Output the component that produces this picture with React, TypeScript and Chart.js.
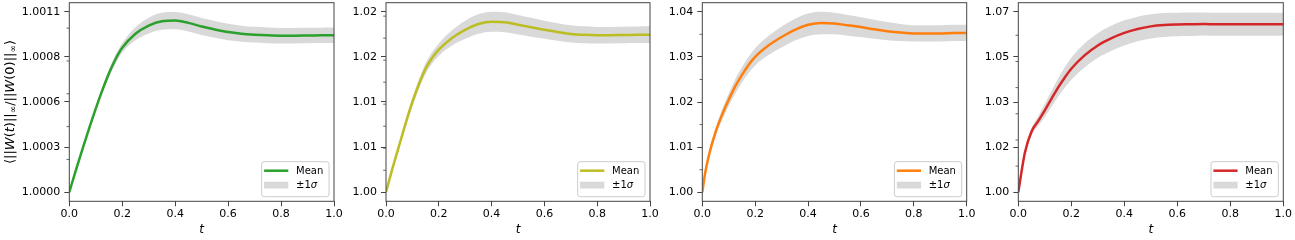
import React, { useEffect, useRef } from 'react';
import { Chart, registerables } from 'chart.js';

Chart.register(...registerables);

// ---------- data ----------
const T = [0, 0.01, 0.025, 0.05, 0.075, 0.1, 0.125, 0.15, 0.175, 0.2, 0.25, 0.3, 0.35, 0.4, 0.45, 0.5, 0.55, 0.6, 0.65, 0.7, 0.75, 0.8, 0.85, 0.9, 0.95, 1.0];

const MEAN_1 = [1.0, 1.000055, 1.000135, 1.000265, 1.00039, 1.00051, 1.000622, 1.000725, 1.000812, 1.00088, 1.000966, 1.001016, 1.001042, 1.001046, 1.001032, 1.00101, 1.000992, 1.000976, 1.000966, 1.00096, 1.000956, 1.000954, 1.000954, 1.000955, 1.000956, 1.000957];
const STD_1 = [0, 0.000003, 0.000006, 0.00001, 0.000013, 0.000017, 0.00002, 0.000024, 0.000027, 0.00003, 0.00004, 0.000048, 0.000052, 0.000053, 0.000053, 0.000052, 0.000051, 0.00005, 0.000049, 0.000048, 0.000048, 0.000047, 0.000047, 0.000047, 0.000047, 0.000047];

const MEAN_2 = [1.0, 1.00113, 1.00277, 1.00533, 1.00789, 1.01025, 1.0123, 1.01404, 1.01527, 1.0162, 1.01753, 1.01845, 1.01911, 1.01937, 1.01931, 1.01902, 1.01874, 1.01845, 1.0182, 1.01798, 1.01788, 1.01784, 1.01784, 1.01786, 1.01788, 1.0179];
const STD_2 = [0, 0.0001, 0.0002, 0.0003, 0.0004, 0.00049, 0.00055, 0.00062, 0.00066, 0.0007, 0.00086, 0.00103, 0.00111, 0.00113, 0.00113, 0.00111, 0.00107, 0.00103, 0.001, 0.00098, 0.00096, 0.00094, 0.00094, 0.00094, 0.00094, 0.00094];

const MEAN_3 = [1.0, 1.004, 1.0082, 1.0133, 1.0172, 1.0205, 1.0235, 1.026, 1.0282, 1.03, 1.0325, 1.0344, 1.036, 1.0371, 1.0375, 1.0374, 1.037, 1.0366, 1.0361, 1.0357, 1.0354, 1.0352, 1.0352, 1.0352, 1.0353, 1.0353];
const STD_3 = [0, 0.0003, 0.0006, 0.0009, 0.0012, 0.0014, 0.0016, 0.0017, 0.0018, 0.0019, 0.0021, 0.0023, 0.0024, 0.0025, 0.0025, 0.0024, 0.0023, 0.0022, 0.0021, 0.002, 0.0019, 0.0018, 0.0018, 0.0018, 0.0018, 0.0018];

const MEAN_4 = [1.0, 1.0065, 1.0152, 1.0232, 1.0272, 1.0313, 1.0357, 1.04, 1.0438, 1.0472, 1.0523, 1.0561, 1.0588, 1.0609, 1.0624, 1.0634, 1.0639, 1.0641, 1.0642, 1.0643, 1.0642, 1.0642, 1.0642, 1.0642, 1.0642, 1.0642];
const STD_4 = [0, 0.0008, 0.0012, 0.0015, 0.0019, 0.0025, 0.003, 0.0035, 0.0039, 0.0042, 0.0046, 0.0047, 0.0048, 0.0048, 0.0047, 0.0046, 0.0046, 0.0045, 0.0045, 0.0044, 0.0044, 0.0044, 0.0044, 0.0044, 0.0044, 0.0043];

const X_TICKS = [0, 0.2, 0.4, 0.6, 0.8, 1.0];
const X_LABELS = ['0.0', '0.2', '0.4', '0.6', '0.8', '1.0'];

const Y_TICKS_1 = [1.0, 1.000275, 1.00055, 1.000825, 1.0011];
const Y_LABELS_1 = ['1.0000', '1.0003', '1.0006', '1.0008', '1.0011'];
const Y_MINOR_1 = [1.0002, 1.0004, 1.0006, 1.0008, 1.001];

const Y_TICKS_2 = [1.0, 1.005125, 1.01025, 1.015375, 1.0205];
const Y_LABELS_2 = ['1.00', '1.01', '1.01', '1.02', '1.02'];
const Y_MINOR_2 = [1.0025, 1.005, 1.0075, 1.01, 1.0125, 1.015, 1.0175, 1.02];

const Y_TICKS_3 = [1.0, 1.01, 1.02, 1.03, 1.04];
const Y_LABELS_3 = ['1.00', '1.01', '1.02', '1.03', '1.04'];
const Y_MINOR_3 = [1.005, 1.015, 1.025, 1.035];

const Y_TICKS_4 = [1.0, 1.01725, 1.0345, 1.05175, 1.069];
const Y_LABELS_4 = ['1.00', '1.02', '1.03', '1.05', '1.07'];
const Y_MINOR_4 = [1.01, 1.02, 1.03, 1.04, 1.05, 1.06];

const SERIES_LABELS = ['Mean', '±1σ'];
const X_TITLE = 't';

const COLORS = ['#2ca02c', '#bcbd22', '#ff7f0e', '#d62728'];
const BAND = '#d9d9d9';
const SPINE = '#444444';
const FONT = "'DejaVu Sans', sans-serif";

const PANELS = [
  { mean: MEAN_1, std: STD_1, color: COLORS[0], yTicks: Y_TICKS_1, yLabels: Y_LABELS_1, minor: Y_MINOR_1, left: 0, right: 345, axL: 69.3, axR: 334, yTitle: true },
  { mean: MEAN_2, std: STD_2, color: COLORS[1], yTicks: Y_TICKS_2, yLabels: Y_LABELS_2, minor: Y_MINOR_2, left: 345, right: 662, axL: 386, axR: 650, yTitle: false },
  { mean: MEAN_3, std: STD_3, color: COLORS[2], yTicks: Y_TICKS_3, yLabels: Y_LABELS_3, minor: Y_MINOR_3, left: 662, right: 978, axL: 702.3, axR: 966.7, yTitle: false },
  { mean: MEAN_4, std: STD_4, color: COLORS[3], yTicks: Y_TICKS_4, yLabels: Y_LABELS_4, minor: Y_MINOR_4, left: 978, right: 1295, axL: 1018.3, axR: 1283.3, yTitle: false },
];

const CANVAS_H = 240;

// y-axis label: ⟨||W(t)||∞/||W(0)||∞⟩ drawn as mathtext-like segments
const Y_TITLE_SEGS: [string, boolean, boolean][] = [
  ['⟨||', false, false], ['W', true, false], ['(', false, false], ['t', true, false], [')||', false, false], ['∞', false, true],
  ['/||', false, false], ['W', true, false], ['(0)||', false, false], ['∞', false, true], ['⟩', false, false],
];

function drawYTitle(ctx: CanvasRenderingContext2D, cx: number, cy: number) {
  const size = 13;
  const fontOf = (it: boolean, sub: boolean) => `${it ? 'italic ' : ''}${sub ? size * 0.7 : size}px ${FONT}`;
  let total = 0;
  const widths = Y_TITLE_SEGS.map(([s, it, sub]) => { ctx.font = fontOf(it, sub); const w = ctx.measureText(s).width; total += w; return w; });
  ctx.save();
  ctx.translate(cx, cy);
  ctx.rotate(-Math.PI / 2);
  ctx.fillStyle = '#000';
  ctx.textBaseline = 'middle';
  ctx.textAlign = 'left';
  let x = -total / 2;
  Y_TITLE_SEGS.forEach(([s, it, sub], i) => {
    ctx.font = fontOf(it, sub);
    ctx.fillText(s, x, sub ? 3.5 : 0);
    x += widths[i];
  });
  ctx.restore();
}

function Panel({ cfg }: { cfg: any }) {
  const ref = useRef<HTMLCanvasElement | null>(null);
  useEffect(() => {
    const canvas = ref.current;
    if (!canvas) return;
    const lo = cfg.yTicks[0];
    const hi = cfg.yTicks[cfg.yTicks.length - 1];
    const R = hi - lo;
    const meanPts = T.map((t, i) => ({ x: t, y: cfg.mean[i] }));
    const upPts = T.map((t, i) => ({ x: t, y: cfg.mean[i] + cfg.std[i] }));
    const loPts = T.map((t, i) => ({ x: t, y: cfg.mean[i] - cfg.std[i] }));

    const decor = {
      id: 'decor',
      afterDatasetsDraw(chart: any) {
        const { ctx, chartArea: a } = chart;
        const ys = chart.scales.y;
        ctx.save();
        // frame
        ctx.strokeStyle = SPINE;
        ctx.lineWidth = 1;
        ctx.strokeRect(a.left, a.top, a.right - a.left, a.bottom - a.top);
        // minor ticks
        ctx.lineWidth = 0.8;
        cfg.minor.forEach((v: number) => {
          const py = ys.getPixelForValue(v);
          ctx.beginPath();
          ctx.moveTo(a.left - 2.8, py);
          ctx.lineTo(a.left, py);
          ctx.stroke();
        });
        // legend
        const w = 67.3, h = 35;
        const x0 = a.right - 5 - w, y0 = a.bottom - 4.6 - h;
        ctx.beginPath();
        if ((ctx as any).roundRect) (ctx as any).roundRect(x0, y0, w, h, 2.5); else ctx.rect(x0, y0, w, h);
        ctx.fillStyle = 'rgba(255,255,255,0.8)';
        ctx.fill();
        ctx.strokeStyle = '#cccccc';
        ctx.lineWidth = 1;
        ctx.stroke();
        ctx.strokeStyle = cfg.color;
        ctx.lineWidth = 2.5;
        ctx.beginPath();
        ctx.moveTo(x0 + 2.4, y0 + 9);
        ctx.lineTo(x0 + 26.6, y0 + 9);
        ctx.stroke();
        ctx.fillStyle = BAND;
        ctx.fillRect(x0 + 2.4, y0 + 20, 24.2, 6.8);
        ctx.fillStyle = '#000';
        ctx.textBaseline = 'middle';
        ctx.textAlign = 'left';
        ctx.font = `10px ${FONT}`;
        ctx.fillText(SERIES_LABELS[0], x0 + 34.3, y0 + 9.5);
        const pm = '±1';
        ctx.fillText(pm, x0 + 34.3, y0 + 23.5);
        const pw = ctx.measureText(pm).width;
        ctx.font = `italic 10px ${FONT}`;
        ctx.fillText('σ', x0 + 34.3 + pw, y0 + 23.5);
        if (cfg.yTitle) drawYTitle(ctx, 10.5, (a.top + a.bottom) / 2);
        ctx.restore();
      },
    };

    const chart = new Chart(canvas, {
      type: 'line',
      data: {
        datasets: [
          { label: SERIES_LABELS[0], data: meanPts, borderColor: cfg.color, borderWidth: 2.5, pointRadius: 0, fill: false, cubicInterpolationMode: 'monotone' } as any,
          { label: SERIES_LABELS[1], data: upPts, borderWidth: 0, borderColor: 'rgba(0,0,0,0)', backgroundColor: BAND, pointRadius: 0, fill: '+1', cubicInterpolationMode: 'monotone' } as any,
          { label: 'lower', data: loPts, borderWidth: 0, borderColor: 'rgba(0,0,0,0)', pointRadius: 0, fill: false, cubicInterpolationMode: 'monotone' } as any,
        ],
      },
      options: {
        animation: false,
        responsive: false,
        devicePixelRatio: 1,
        events: [],
        layout: { padding: { left: 0, right: cfg.right - cfg.axR, top: 2.7, bottom: 0 } },
        plugins: { legend: { display: false }, tooltip: { enabled: false } },
        scales: {
          x: {
            type: 'linear',
            min: 0,
            max: 1,
            afterBuildTicks: (s: any) => { s.ticks = X_TICKS.map((v) => ({ value: v })); },
            afterFit: (s: any) => { s.height = 38.7; s.paddingLeft = 0; s.paddingRight = 0; },
            ticks: {
              callback: (_v: any, i: number) => X_LABELS[i],
              font: { family: FONT, size: 11 },
              color: '#000',
              padding: 1,
              maxRotation: 0,
              autoSkip: false,
            },
            grid: { drawOnChartArea: false, drawTicks: true, tickLength: 5, color: SPINE, lineWidth: 1 },
            border: { display: false },
            title: { display: true, text: X_TITLE, font: { family: FONT, size: 12, style: 'italic' }, color: '#000', padding: { top: 0, bottom: 3 } },
          },
          y: {
            type: 'linear',
            min: lo - 0.05 * R,
            max: hi + 0.05 * R,
            afterBuildTicks: (s: any) => { s.ticks = cfg.yTicks.map((v: number) => ({ value: v })); },
            afterFit: (s: any) => { s.width = cfg.axL - cfg.left; s.paddingTop = 0; s.paddingBottom = 0; },
            ticks: {
              callback: (_v: any, i: number) => cfg.yLabels[i],
              font: { family: FONT, size: 11 },
              color: '#000',
              padding: 4,
              autoSkip: false,
            },
            grid: { drawOnChartArea: false, drawTicks: true, tickLength: 5, color: SPINE, lineWidth: 1 },
            border: { display: false },
          },
        },
      } as any,
      plugins: [decor],
    });
    return () => chart.destroy();
  }, [cfg]);
  const w = cfg.right - cfg.left;
  return (
    <canvas
      ref={ref}
      width={w}
      height={CANVAS_H}
      style={{ position: 'absolute', left: cfg.left, top: 0, width: w, height: CANVAS_H }}
    />
  );
}

export default function App() {
  return (
    <div style={{ position: 'fixed', left: 0, top: 0, width: 1295, height: CANVAS_H, background: '#fff' }}>
      {PANELS.map((p, i) => (
        <Panel key={i} cfg={p} />
      ))}
    </div>
  );
}
